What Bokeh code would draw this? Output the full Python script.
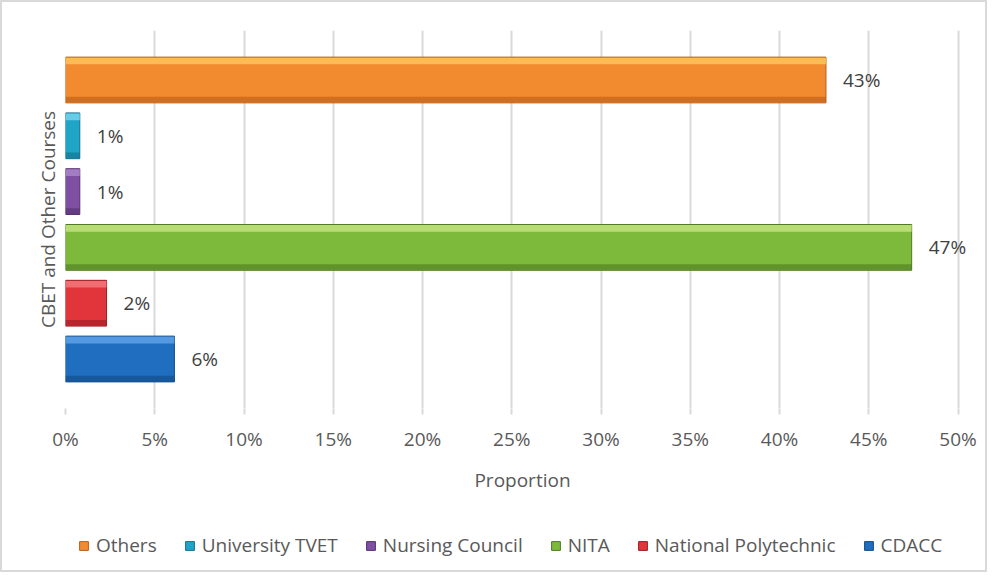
from bokeh.plotting import figure
from bokeh.layouts import column
from bokeh.models import Legend, LegendItem, ColumnDataSource, PrintfTickFormatter, FixedTicker, Range1d
from bokeh.core.properties import value
from bokeh.embed import file_html
from bokeh.resources import INLINE

# ---- data ----
series = ["Others", "University TVET", "Nursing Council", "NITA", "National Polytechnic", "CDACC"]
proportions = [42.6, 0.8, 0.8, 47.4, 2.3, 6.1]
x_ticks = [0, 5, 10, 15, 20, 25, 30, 35, 40, 45, 50]
y_title = "CBET and Other Courses"
x_title = "Proportion"

# ---- styles ----
main_colors = ["#F28A30", "#1FA5C8", "#7E4FA3", "#7DBA3C", "#E2343B", "#1F6EC0"]
light_colors = ["#FBC55A", "#74D2EA", "#A885C9", "#C4E27E", "#F2787C", "#5DA2E8"]
dark_colors = ["#B95E18", "#12708A", "#55316F", "#4D7A22", "#9C1D23", "#124A85"]
FONT = "Open Sans"
TXT = "#595959"
W = 987
NAN = float("nan")

n = len(series)
ypos = [n - 1 - i for i in range(n)]  # Others on top
labels = [f"{round(v)}%" for v in proportions]

src = ColumnDataSource(dict(y=ypos, v=proportions, lab=labels))

p = figure(width=W, height=515, output_backend="svg", toolbar_location=None,
           x_range=Range1d(0, 51.2), y_range=Range1d(-0.887, n - 1 + 0.887),
           min_border_left=65, min_border_right=8, min_border_top=30, min_border_bottom=107)
p.outline_line_color = None
p.background_fill_color = "white"
p.border_fill_alpha = 0

H = 0.82
renderers = []
for i in range(n):
    r = p.hbar(y=ypos[i], left=0, right=proportions[i], height=H,
               fill_color=main_colors[i], line_color=dark_colors[i], line_width=1)
    # highlight band at top and shade band at bottom (bevel look)
    p.hbar(y=ypos[i] + H / 2 - 0.07, left=0, right=proportions[i], height=0.12,
           fill_color=light_colors[i], line_color=None, fill_alpha=0.85)
    p.hbar(y=ypos[i] - H / 2 + 0.06, left=0, right=proportions[i], height=0.1,
           fill_color=dark_colors[i], line_color=None, fill_alpha=0.6)
    renderers.append(r)

p.text(x="v", y="y", text="lab", source=src, x_offset=17, text_align="left",
       text_baseline="middle", text_font=value(FONT), text_font_size="19px",
       text_color="#404040")

# axes
xa = p.xaxis[0]
xa.ticker = FixedTicker(ticks=x_ticks)
xa.formatter = PrintfTickFormatter(format="%d%%")
xa.axis_line_color = None
xa.major_tick_line_color = "#D9D9D9"
xa.major_tick_line_width = 2
xa.major_tick_out = 6
xa.major_tick_in = 0
xa.minor_tick_line_color = None
xa.major_label_text_font = FONT
xa.major_label_text_font_size = "19px"
xa.major_label_text_color = TXT
xa.major_label_standoff = 11
xa.axis_label = x_title
xa.axis_label_text_font = FONT
xa.axis_label_text_font_size = "19px"
xa.axis_label_text_font_style = "normal"
xa.axis_label_text_color = TXT
xa.axis_label_standoff = 12

ya = p.yaxis[0]
ya.ticker = FixedTicker(ticks=[])
ya.axis_line_color = None
ya.major_tick_line_color = None
ya.minor_tick_line_color = None
ya.axis_label = y_title
ya.axis_label_text_font = FONT
ya.axis_label_text_font_size = "19px"
ya.axis_label_text_font_style = "normal"
ya.axis_label_text_color = TXT
ya.axis_label_standoff = 5

p.xgrid.grid_line_color = "#D9D9D9"
p.xgrid.grid_line_width = 2
p.xgrid.ticker = FixedTicker(ticks=x_ticks)
p.ygrid.grid_line_color = None

# ---- legend strip (separate figure below) ----
lg = figure(width=W, height=57, output_backend="svg", toolbar_location=None,
            x_range=Range1d(0, 1), y_range=Range1d(0, 1),
            x_axis_location=None, y_axis_location=None,
            min_border=0, min_border_left=0, min_border_right=0, min_border_top=0, min_border_bottom=0)
lg.grid.visible = False
lg.outline_line_color = None
lg.border_fill_alpha = 0
lg.background_fill_alpha = 0
dummy = []
for i in range(n):
    d = lg.quad(left=[NAN], right=[NAN], top=[NAN], bottom=[NAN], fill_color=main_colors[i],
                line_color=dark_colors[i])
    dummy.append(d)

legend = Legend(items=[LegendItem(label=series[i], renderers=[dummy[i]]) for i in range(n)],
                orientation="horizontal", location=(13, 14),
                glyph_width=11, glyph_height=11, label_standoff=7, spacing=27,
                padding=0, margin=0, border_line_color=None, background_fill_alpha=0,
                label_text_font=FONT, label_text_font_size="19px", label_text_color=TXT)
lg.add_layout(legend, "center")

layout = column(p, lg, spacing=0)
layout.styles = {"box-shadow": "inset 0 0 0 2px #D9D9D9", "background-color": "white"}

open("out.html", "w").write(file_html(layout, INLINE))
